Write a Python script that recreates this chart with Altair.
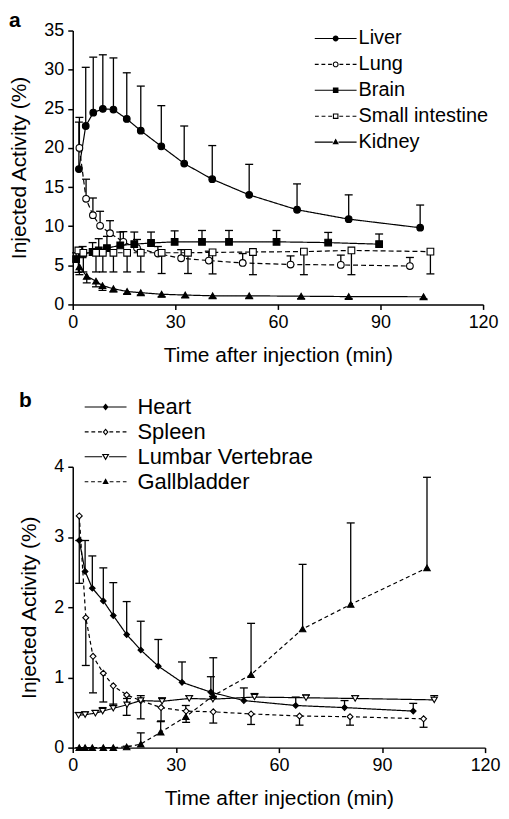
import altair as alt
import pandas as pd

# ---------------- Panel a data (Injected Activity %, time in min) ----------------
organs_a = ["Liver", "Lung", "Brain", "Small intestine", "Kidney"]

liver_t = [1.8, 3.8, 6.0, 8.8, 11.9, 15.8, 19.9, 25.9, 32.6, 40.8, 51.6, 65.6, 80.7, 101.6]
liver_v = [17.3, 22.8, 24.5, 25.0, 24.9, 23.7, 22.2, 20.2, 18.0, 16.0, 14.0, 12.1, 10.9, 9.8]
liver_err = [23.3, 30.3, 31.6, 31.9, 31.5, 29.6, 27.9, 25.4, 22.8, 20.3, 17.9, 15.4, 14.0, 12.7]

lung_t = [1.95, 3.9, 5.9, 8.0, 10.9, 14.8, 18.8, 24.9, 31.7, 39.8, 49.7, 63.7, 78.4, 98.6]
lung_v = [20.0, 13.5, 11.4, 10.05, 9.1, 8.0, 7.2, 6.5, 5.9, 5.6, 5.3, 5.1, 5.05, 4.9]
lung_err = [23.9, 16.0, 13.6, 11.9, 10.7, 9.3, 8.3, 7.4, 7.0, 6.8, 6.5, 6.2, 6.3, 6.0]

brain_t = [1.0, 2.9, 5.8, 7.6, 10.0, 13.9, 18.0, 22.9, 29.8, 37.8, 45.7, 59.6, 74.7, 89.6]
brain_v = [5.8, 6.4, 6.7, 6.9, 7.2, 7.55, 7.7, 7.85, 8.0, 8.0, 8.0, 8.0, 7.9, 7.7]
brain_err = [6.6, 7.4, 7.9, 8.4, 8.7, 9.25, 9.25, 9.25, 9.4, 9.45, 9.45, 9.45, 9.2, 9.0]

si_t = [1.65, 3.1, 6.8, 8.8, 11.9, 15.9, 19.9, 26.0, 33.7, 40.9, 52.7, 67.6, 81.5, 104.6]
si_v = [6.9, 6.6, 6.6, 6.6, 6.6, 6.6, 6.6, 6.6, 6.6, 6.65, 6.7, 6.75, 6.9, 6.75]
si_err = [4.1, 4.15, 4.15, 4.15, 4.15, 4.15, 4.15, 3.95, 3.95, 3.9, 3.8, 3.8, 3.8, 3.9]

kidney_t = [1.95, 4.1, 6.8, 8.7, 11.9, 15.9, 19.9, 26.0, 32.9, 40.9, 51.6, 66.8, 80.7, 102.6]
kidney_v = [4.8, 3.6, 2.97, 2.4, 2.0, 1.65, 1.5, 1.3, 1.2, 1.1, 1.1, 1.05, 1.0, 0.98]
kidney_err = [3.8, 2.75, 2.25, 1.8, 1.6, 1.35, 1.2, 1.0, 0.9, 0.8, 0.8, 0.75, 0.75, 0.7]

# ---------------- Panel b data ----------------
organs_b = ["Heart", "Spleen", "Lumbar Vertebrae", "Gallbladder"]

heart_t = [1.9, 3.6, 5.7, 8.9, 11.8, 15.7, 19.8, 24.9, 31.8, 40.2, 49.8, 64.9, 79.1, 99.1]
heart_v = [2.95, 2.51, 2.27, 2.09, 1.88, 1.61, 1.39, 1.16, 0.93, 0.79, 0.67, 0.6, 0.57, 0.52]
heart_err = [2.95, 2.95, 2.73, 2.56, 2.35, 2.08, 1.8, 1.54, 1.22, 1.01, 0.85, 0.72, 0.67, 0.63]

spleen_t = [1.9, 3.8, 5.9, 8.9, 11.8, 15.7, 19.8, 25.7, 33.0, 40.9, 51.9, 66.0, 80.7, 102.1]
spleen_v = [3.3, 1.85, 1.3, 1.06, 0.88, 0.75, 0.67, 0.57, 0.52, 0.51, 0.48, 0.45, 0.44, 0.41]
spleen_err = [2.34, 1.17, 0.78, 0.65, 0.6, 0.46, 0.41, 0.38, 0.36, 0.35, 0.33, 0.32, 0.32, 0.29]

vert_t = [1.7, 3.6, 6.6, 8.7, 11.8, 15.8, 19.8, 26.0, 33.9, 40.8, 52.9, 67.9, 82.2, 105.2]
vert_v = [0.46, 0.47, 0.49, 0.52, 0.56, 0.61, 0.67, 0.66, 0.70, 0.69, 0.72, 0.71, 0.70, 0.68]
vert_err = [0.5, 0.51, 0.53, 0.57, 0.62, 0.70, 0.74, 0.71, 0.74, 0.73, 0.77, 0.75, 0.74, 0.74]

gall_t = [1.9, 3.6, 5.7, 8.9, 11.8, 15.7, 19.8, 25.6, 32.9, 40.9, 51.9, 66.9, 80.9, 103.1]
gall_v = [0.0, 0.0, 0.0, 0.0, 0.0, 0.01, 0.05, 0.22, 0.44, 0.74, 1.04, 1.69, 2.04, 2.56]
gall_err = [0.0, 0.0, 0.0, 0.0, 0.0, 0.02, 0.21, 0.37, 0.6, 1.28, 1.77, 2.61, 3.2, 3.85]

x_ticks = [0, 30, 60, 90, 120]
y_ticks_a = [0, 5, 10, 15, 20, 25, 30, 35]
y_ticks_b = [0, 1, 2, 3, 4]

FONT = "Liberation Sans"


def build_df(names, series):
    rows = []
    for name, (ts, vs, es) in zip(names, series):
        for t, v, e in zip(ts, vs, es):
            rows.append({"organ": name, "t": t, "v": v, "err": e})
    return pd.DataFrame(rows)


df_a = build_df(organs_a, [(liver_t, liver_v, liver_err), (lung_t, lung_v, lung_err),
                           (brain_t, brain_v, brain_err), (si_t, si_v, si_err),
                           (kidney_t, kidney_v, kidney_err)])
df_b = build_df(organs_b, [(heart_t, heart_v, heart_err), (spleen_t, spleen_v, spleen_err),
                           (vert_t, vert_v, vert_err), (gall_t, gall_v, gall_err)])


# ---------- legend symbols drawn as filled outlines: line + marker ----------
LW = 0.16  # line thickness in symbol units (1 unit = 7 px)


def poly(pts):
    return "M" + "L".join(f"{x:.3f},{y:.3f}" for x, y in pts) + "Z"


def circle_path(r, cw=True):
    s = 1 if cw else 0
    return (f"M{r:.3f},0A{r:.3f},{r:.3f},0,1,{s},{-r:.3f},0"
            f"A{r:.3f},{r:.3f},0,1,{s},{r:.3f},0Z")


def marker_path(kind, open_):
    if kind == "circle":
        r = 0.42
        p = circle_path(r, True)
        if open_:
            p += circle_path(r - LW, False)
        return p, r
    if kind == "square":
        r = 0.4
        outer = [(-r, -r), (r, -r), (r, r), (-r, r)]
        p = poly(outer)
        if open_:
            ri = r - LW
            p += poly([(-ri, -ri), (-ri, ri), (ri, ri), (ri, -ri)])
        return p, r
    if kind == "triangle-up":
        r = 0.46
        outer = [(0, -r * 1.1), (r, r * 0.7), (-r, r * 0.7)]
        return poly(outer), r
    if kind == "diamond":
        r = 0.42
        outer = [(0, -r * 1.2), (r, 0), (0, r * 1.2), (-r, 0)]
        p = poly(outer)
        if open_:
            ri = r - LW * 1.3
            p += poly([(0, -ri * 1.2), (-ri, 0), (0, ri * 1.2), (ri, 0)])
        return p, r
    if kind == "triangle-down":
        r = 0.55
        outer = [(-r, -r * 0.75), (r, -r * 0.75), (0, r * 0.95)]
        p = poly(outer)
        if open_:
            ri = r - LW * 1.9
            p += poly([(0, ri * 0.95 - 0.02), (ri, -r * 0.75 + LW), (-ri, -r * 0.75 + LW)])
        return p, r
    raise ValueError(kind)


def seg(a, b):
    h = LW / 2
    return poly([(a, -h), (b, -h), (b, h), (a, h)])


def legend_path(kind, open_, dashed, half=3.0, dash=0.55, gap=0.4):
    mp, r = marker_path(kind, open_)
    out = []
    if dashed:
        x = r + 0.12
        while x < half - 0.05:
            x2 = min(x + dash, half)
            out.append(seg(x, x2))
            out.append(seg(-x2, -x))
            x = x2 + gap
    else:
        out.append(seg(-half, -r + 0.05))
        out.append(seg(r - 0.05, half))
    return "".join(out) + mp


def panel(df, organs, shapes, fills, dashes, sizes, ydomain, yticks, leg_x, leg_y,
          leg_font, leg_rowpad, leg_offset, width, height, title_text, title_offset):
    xs = alt.Scale(domain=[0, 120], nice=False, padding=0, zero=False)
    ys = alt.Scale(domain=ydomain, nice=False, padding=0)
    x_axis = alt.Axis(values=x_ticks, title="Time after injection (min)", titlePadding=13,
                      format="d", labelOverlap=False, labelFlush=False)
    y_axis = alt.Axis(values=yticks, title="Injected Activity (%)", titlePadding=14,
                      format="d", labelOverlap=False, labelFlush=False)

    def X(f="t:Q"):
        return alt.X(f, scale=xs, axis=x_axis)

    def Y(f="v:Q"):
        return alt.Y(f, scale=ys, axis=y_axis)

    base = alt.Chart(df)
    bars = base.mark_rule(color="black", strokeWidth=1.3).encode(x=X(), y=Y(), y2="err:Q")
    caps = base.mark_tick(orient="horizontal", color="black", size=8, thickness=1.3,
                          opacity=1).encode(x=X(), y=Y("err:Q"))
    lines = base.mark_line(color="black", strokeWidth=1.2).encode(
        x=X(), y=Y(),
        detail="organ:N",
        order="t:Q",
        strokeDash=alt.StrokeDash("organ:N", scale=alt.Scale(domain=organs, range=dashes), legend=None),
    )
    points = base.mark_point(color="black", strokeWidth=1.1, opacity=1, filled=False).encode(
        x=X(), y=Y(),
        shape=alt.Shape("organ:N", scale=alt.Scale(domain=organs, range=shapes), legend=None),
        fill=alt.Fill("organ:N", scale=alt.Scale(domain=organs, range=fills), legend=None),
        size=alt.Size("organ:N", scale=alt.Scale(domain=organs, range=sizes), legend=None),
    )
    leg = alt.Legend(orient="none", legendX=leg_x, legendY=leg_y, title=None,
                     symbolSize=196, symbolStrokeWidth=0, symbolFillColor="black",
                     symbolOpacity=1, labelFontSize=leg_font, labelFont=FONT,
                     labelColor="black", labelOffset=leg_offset, rowPadding=leg_rowpad, padding=0,
                     labelLimit=400)
    paths = [legend_path(s, f == "white", d != [1, 0]) for s, f, d in zip(shapes, fills, dashes)]
    legend_layer = base.transform_filter(alt.datum.t < -1000).mark_point(
        color="black", opacity=1, filled=True).encode(
        x=X(), y=Y(),
        shape=alt.Shape("organ:N", scale=alt.Scale(domain=organs, range=paths), legend=leg),
    )
    return alt.layer(bars, caps, lines, points, legend_layer).resolve_scale(
        shape="independent"
    ).properties(
        width=width, height=height,
        title=alt.TitleParams(title_text, anchor="start", frame="bounds", offset=title_offset,
                              fontSize=21, fontWeight="bold", font=FONT, color="black"),
    )


SOLID = [1, 0]
DASH = [5, 3]

panel_a = panel(
    df_a, organs_a,
    shapes=["circle", "circle", "square", "square", "triangle-up"],
    fills=["black", "white", "black", "white", "black"],
    dashes=[SOLID, DASH, SOLID, DASH, SOLID],
    sizes=[45, 45, 42, 42, 45],
    ydomain=[0, 35], yticks=y_ticks_a,
    leg_x=254, leg_y=-2, leg_font=20, leg_rowpad=6, leg_offset=13,
    width=412, height=275, title_text="a", title_offset=-9,
)

panel_b = panel(
    df_b, organs_b,
    shapes=["diamond", "diamond", "triangle-down", "triangle-up"],
    fills=["black", "white", "white", "black"],
    dashes=[SOLID, [4, 3], SOLID, [4, 3]],
    sizes=[32, 42, 60, 30],
    ydomain=[0, 4], yticks=y_ticks_b,
    leg_x=22, leg_y=-71, leg_font=22, leg_rowpad=3, leg_offset=21,
    width=414, height=282, title_text="b", title_offset=-15,
)

chart = alt.vconcat(panel_a, panel_b, spacing=25).resolve_scale(
    shape="independent", fill="independent", size="independent", strokeDash="independent"
).configure_axis(
    domainColor="black", domainWidth=1.5, tickColor="black", tickWidth=1.5, tickSize=5,
    labelFont=FONT, labelFontSize=18, labelColor="black", labelPadding=4,
    titleFont=FONT, titleFontSize=21, titleFontWeight="normal", titleColor="black",
    grid=False,
).configure_view(stroke=None).properties(padding={"left": 0, "top": 0, "right": 0, "bottom": 0})

chart.save("out.html", embed_options={"renderer": "svg", "actions": False})
